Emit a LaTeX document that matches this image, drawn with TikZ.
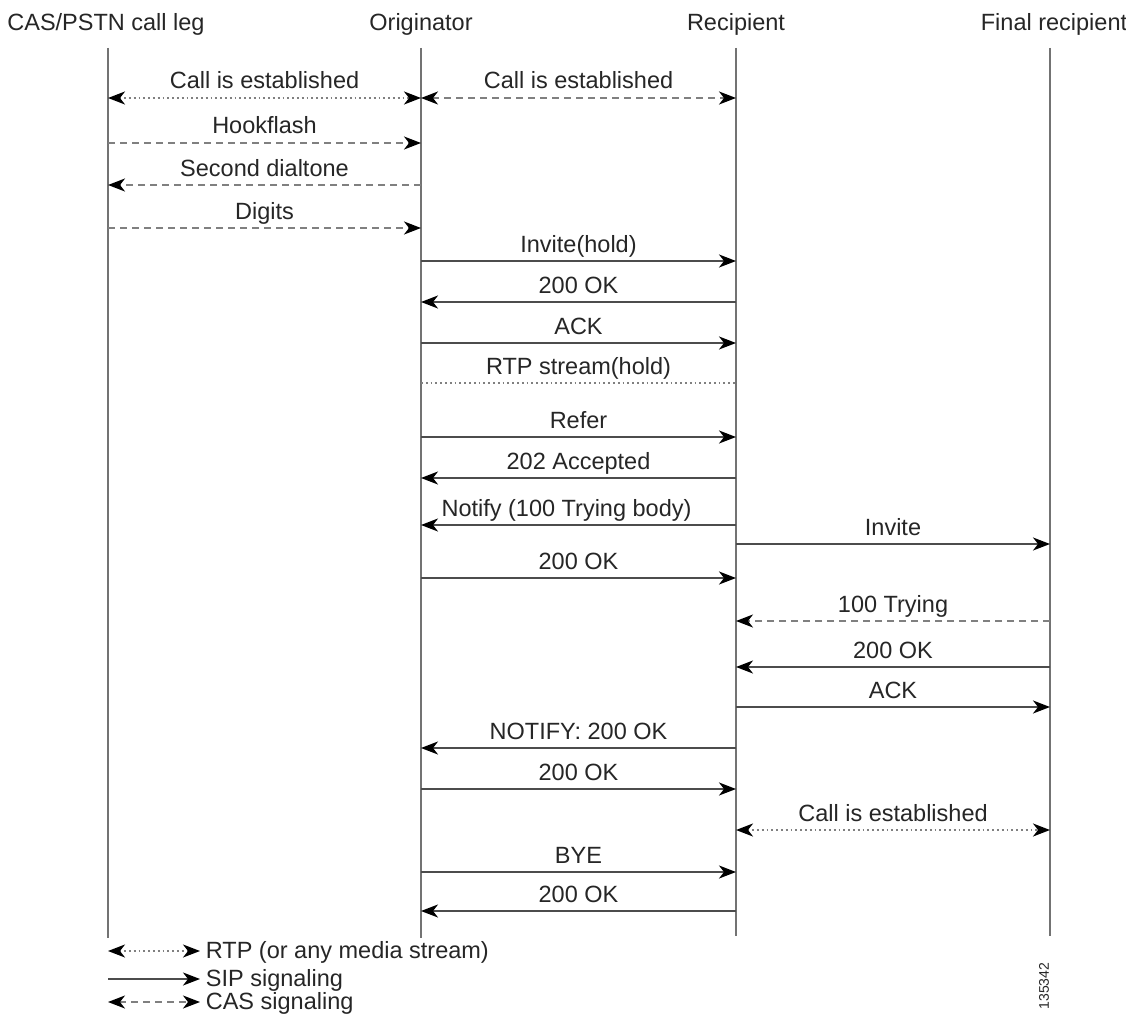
\documentclass[tikz,border=0pt]{standalone}
\usepackage{fontspec}
\setmainfont{Liberation Sans}
\usetikzlibrary{arrows.meta}
\begin{document}
\begin{tikzpicture}[x=1pt,y=-1pt,
  every node/.style={font=\fontsize{23.5}{28}\selectfont, inner sep=0pt, text=black!85},
  hd/.tip={Stealth[length=17pt,width=13pt,inset=5pt,color=black]},
  fw/.style={arrows={-hd}},
  bw/.style={arrows={hd-hd}},
  life/.style={draw=black!55, line width=1.6pt},
  sip/.style={draw=black!70, line width=1.8pt},
  cas/.style={draw=black!50, line width=1.7pt, dash pattern=on 7pt off 5pt},
  rtp/.style={draw=black!50, line width=1.8pt, dash pattern=on 1.8pt off 3pt},
  lbl/.style={anchor=base, yshift=9pt},
  lgd/.style={anchor=base west, xshift=5pt, yshift=-7.5pt}
]
\fill[white] (0,0) rectangle (1126,1019);
\useasboundingbox (0,0) rectangle (1126,1019);

% headers
\node[anchor=base] (hA) at (106,31) {CAS/PSTN call leg};
\node[anchor=base] (hB) at (421,31) {Originator};
\node[anchor=base] (hC) at (736,31) {Recipient};
\node[anchor=base] (hD) at (1054,31) {Final recipient};

% lifelines
\coordinate (A) at (108,48);  \coordinate (Ab) at (108,938);
\coordinate (B) at (421,48);  \coordinate (Bb) at (421,938);
\coordinate (C) at (736,48);  \coordinate (Cb) at (736,936);
\coordinate (D) at (1050,48); \coordinate (Db) at (1050,936);
\draw[life] (A) -- (Ab);
\draw[life] (B) -- (Bb);
\draw[life] (C) -- (Cb);
\draw[life] (D) -- (Db);

\newcommand\sendmsg[5]{\draw[#1] (#2 |- 0,#4) -- node[lbl]{#5} (#3 |- 0,#4);}

\sendmsg{rtp,bw}{A}{B}{98}{Call is established}
\sendmsg{cas,bw}{B}{C}{98}{Call is established}
\sendmsg{cas,fw}{A}{B}{143}{Hookflash}
\sendmsg{cas,fw}{B}{A}{185}{Second dialtone}
\sendmsg{cas,fw}{A}{B}{228}{Digits}
\sendmsg{sip,fw}{B}{C}{261}{Invite(hold)}
\sendmsg{sip,fw}{C}{B}{302}{200 OK}
\sendmsg{sip,fw}{B}{C}{343}{ACK}
\sendmsg{rtp}{B}{C}{383}{RTP stream(hold)}
\sendmsg{sip,fw}{B}{C}{437}{Refer}
\sendmsg{sip,fw}{C}{B}{478}{202 Accepted}
\draw[sip,fw] (C |- 0,525) -- node[lbl,xshift=-12pt]{Notify (100 Trying body)} (B |- 0,525);
\sendmsg{sip,fw}{C}{D}{544}{Invite}
\sendmsg{sip,fw}{B}{C}{578}{200 OK}
\sendmsg{cas,fw}{D}{C}{621}{100 Trying}
\sendmsg{sip,fw}{D}{C}{667}{200 OK}
\sendmsg{sip,fw}{C}{D}{707}{ACK}
\sendmsg{sip,fw}{C}{B}{748}{NOTIFY: 200 OK}
\sendmsg{sip,fw}{B}{C}{789}{200 OK}
\sendmsg{rtp,bw}{C}{D}{830}{Call is established}
\sendmsg{sip,fw}{B}{C}{872}{BYE}
\sendmsg{sip,fw}{C}{B}{911}{200 OK}

% legend
\coordinate (g1a) at (108,951);  \coordinate (g1b) at (200,951);
\coordinate (g2a) at (108,979);  \coordinate (g2b) at (200,979);
\coordinate (g3a) at (108,1002); \coordinate (g3b) at (200,1002);
\draw[rtp,bw] (g1a) -- (g1b) node[lgd] (t1) {RTP (or any media stream)};
\draw[sip,fw] (g2a) -- (g2b) node[lgd] (t2) {SIP signaling};
\draw[cas,bw] (g3a) -- (g3b) node[lgd] (t3) {CAS signaling};

% figure id
\node[rotate=90, font=\fontsize{14}{16}\selectfont] (fid) at (1044,986) {135342};
\end{tikzpicture}
\end{document}
